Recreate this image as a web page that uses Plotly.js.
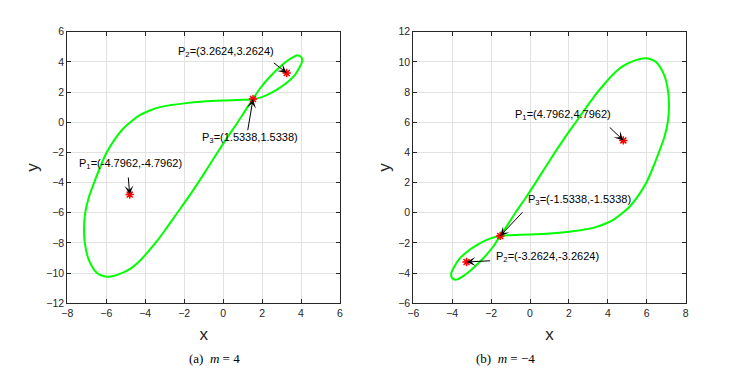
<!DOCTYPE html>
<html>
<head>
<meta charset="utf-8">
<script src="https://cdn.plot.ly/plotly-3.0.1.min.js"></script>
<style>
  html, body { margin: 0; padding: 0; background: #fff; }
  #chart { width: 729px; height: 382px; }
</style>
</head>
<body>
<div id="chart"></div>
<script>
// curve for m = 4 (closed loop through P3)
var curveAx = [1.53, 1.88, 2.39, 2.91, 3.42, 3.82, 4.02, 4.05, 3.93, 3.68, 3.25, 2.74, 2.23, 1.8, 1.53,
               1.0, 0.0, -1.0, -2.0, -2.75, -3.25, -3.8, -4.3, -4.75, -5.15, -5.6, -6.0, -6.32, -6.65,
               -6.9, -7.08, -7.14, -7.1, -6.9, -6.49, -6.2, -5.9, -5.3, -4.75, -4.25, -3.8, -3.35,
               -2.9, -2.35, -1.8, -1.28, -0.78, -0.29, 0.22, 0.75, 1.15, 1.53];
var curveAy = [1.53, 2.22, 3.0, 3.66, 4.18, 4.44, 4.3, 4.0, 3.66, 3.13, 2.6, 2.15, 1.8, 1.6, 1.53,
               1.49, 1.44, 1.37, 1.25, 1.12, 1.0, 0.76, 0.45, 0.02, -0.45, -1.2, -2.06, -3.0, -4.1,
               -5.0, -6.0, -7.0, -8.0, -9.1, -9.97, -10.17, -10.24, -10.05, -9.7, -9.15, -8.5, -7.8,
               -7.0, -6.0, -5.0, -4.0, -3.0, -2.0, -1.0, 0.0, 0.8, 1.53];

// curve for m = -4
var curveBx = [-1.53, -1.88, -2.39, -2.91, -3.42, -3.82, -4.02, -4.05, -3.93, -3.68, -3.25, -2.74, -2.23, -1.8, -1.53,
               -1.0, 0.0, 1.0, 2.0, 2.75, 3.25, 3.8, 4.3, 4.75, 5.15, 5.6, 6.0, 6.32, 6.65,
               6.9, 7.08, 7.14, 7.1, 6.9, 6.49, 6.2, 5.9, 5.3, 4.75, 4.25, 3.8, 3.35,
               2.9, 2.35, 1.8, 1.28, 0.78, 0.29, -0.22, -0.75, -1.15, -1.53];
var curveBy = [-1.53, -2.22, -3.0, -3.66, -4.18, -4.44, -4.3, -4.0, -3.66, -3.13, -2.6, -2.15, -1.8, -1.6, -1.53,
               -1.49, -1.44, -1.37, -1.25, -1.12, -1.0, -0.76, -0.45, -0.02, 0.45, 1.2, 2.06, 3.0, 4.1,
               5.0, 6.0, 7.0, 8.0, 9.1, 9.97, 10.17, 10.24, 10.05, 9.7, 9.15, 8.5, 7.8,
               7.0, 6.0, 5.0, 4.0, 3.0, 2.0, 1.0, 0.0, -0.8, -1.53];

// equilibrium points P1, P2, P3
var ptsAx = [-4.7962, 3.2624, 1.5338];
var ptsAy = [-4.7962, 3.2624, 1.5338];
var ptsBx = [4.7962, -3.2624, -1.5338];
var ptsBy = [4.7962, -3.2624, -1.5338];
var labelsA = ['P<sub>1</sub>=(-4.7962,-4.7962)', 'P<sub>2</sub>=(3.2624,3.2624)', 'P<sub>3</sub>=(1.5338,1.5338)'];
var labelsB = ['P<sub>1</sub>=(4.7962,4.7962)', 'P<sub>2</sub>=(-3.2624,-3.2624)', 'P<sub>3</sub>=(-1.5338,-1.5338)'];

var ink = '#262626';
var green = '#00ff00';

var traces = [
  { x: curveAx, y: curveAy, type: 'scatter', mode: 'lines',
    line: {color: green, width: 2, shape: 'spline', smoothing: 0.8}, xaxis: 'x', yaxis: 'y' },
  { x: ptsAx, y: ptsAy, type: 'scatter', mode: 'markers',
    marker: {symbol: 'asterisk-open', size: 7, color: '#ff0000', line: {color: '#ff0000', width: 1.5}},
    xaxis: 'x', yaxis: 'y' },
  { x: curveBx, y: curveBy, type: 'scatter', mode: 'lines',
    line: {color: green, width: 2, shape: 'spline', smoothing: 0.8}, xaxis: 'x2', yaxis: 'y2' },
  { x: ptsBx, y: ptsBy, type: 'scatter', mode: 'markers',
    marker: {symbol: 'asterisk-open', size: 7, color: '#ff0000', line: {color: '#ff0000', width: 1.5}},
    xaxis: 'x2', yaxis: 'y2' }
];

function axis(range, domain, anchor, title, standoff) {
  return {
    range: range, domain: domain, anchor: anchor, dtick: 2,
    showline: true, mirror: 'ticks', linecolor: ink, linewidth: 1,
    ticks: 'inside', ticklen: 4, tickcolor: ink,
    showgrid: true, gridcolor: '#e2e2e2', zeroline: false,
    tickfont: {family: 'Liberation Sans, Arial, sans-serif', size: 10.5, color: ink},
    title: {text: title, font: {family: 'Liberation Sans, Arial, sans-serif', size: 17, color: ink},
            standoff: standoff}
  };
}

var txtFont = {family: 'Liberation Sans, Arial, sans-serif', size: 11, color: '#000'};
var capFont = {family: 'Liberation Serif, Times New Roman, serif', size: 13, color: '#000'};

function label(xr, yr, x, y, text) {
  return {xref: xr, yref: yr, x: x, y: y, text: text, showarrow: false, font: txtFont};
}
function arrow(xr, yr, x, y, ax, ay) {
  return {xref: xr, yref: yr, x: x, y: y, ax: ax, ay: ay, text: '', showarrow: true,
          arrowhead: 3, arrowsize: 1.5, arrowwidth: 1, arrowcolor: '#000'};
}

var annotations = [
  label('x', 'y', -4.74, -2.79, labelsA[0]),
  label('x', 'y', 0.17, 4.67, labelsA[1]),
  label('x', 'y', 1.39, -1.06, labelsA[2]),
  arrow('x', 'y', ptsAx[0], ptsAy[0], -1.5, -18.6),
  arrow('x', 'y', ptsAx[1], ptsAy[1], -14.3, -11.3),
  arrow('x', 'y', ptsAx[2], ptsAy[2], -5.5, 32.6),
  label('x2', 'y2', 1.68, 6.48, labelsB[0]),
  label('x2', 'y2', 0.89, -2.95, labelsB[1]),
  label('x2', 'y2', 2.52, 0.85, labelsB[2]),
  arrow('x2', 'y2', ptsBx[0], ptsBy[0], -15.1, -14.4),
  arrow('x2', 'y2', ptsBx[1], ptsBy[1], 25.1, -1.3),
  arrow('x2', 'y2', ptsBx[2], ptsBy[2], 23.8, -25.2),
  {xref: 'paper', yref: 'paper', x: 0.2565, y: 0.0366, showarrow: false, font: capFont,
   text: '(a)  <i>m</i> = 4'},
  {xref: 'paper', yref: 'paper', x: 0.7366, y: 0.0366, showarrow: false, font: capFont,
   text: '(b)  <i>m</i> = \u22124'}
];

var layout = {
  width: 729, height: 382,
  margin: {l: 0, r: 0, t: 0, b: 0},
  paper_bgcolor: '#fff', plot_bgcolor: '#fff',
  showlegend: false,
  xaxis: axis([-8, 6], [0.0923, 0.4664], 'y', 'x', 10),
  yaxis: axis([-12, 6], [0.206, 0.917], 'x', 'y', 3),
  xaxis2: axis([-6, 8], [0.5669, 0.9406], 'y2', 'x', 10),
  yaxis2: axis([-6, 12], [0.206, 0.917], 'x2', 'y', 3),
  annotations: annotations
};

Plotly.newPlot('chart', traces, layout, {displayModeBar: false, staticPlot: true});
</script>
</body>
</html>
